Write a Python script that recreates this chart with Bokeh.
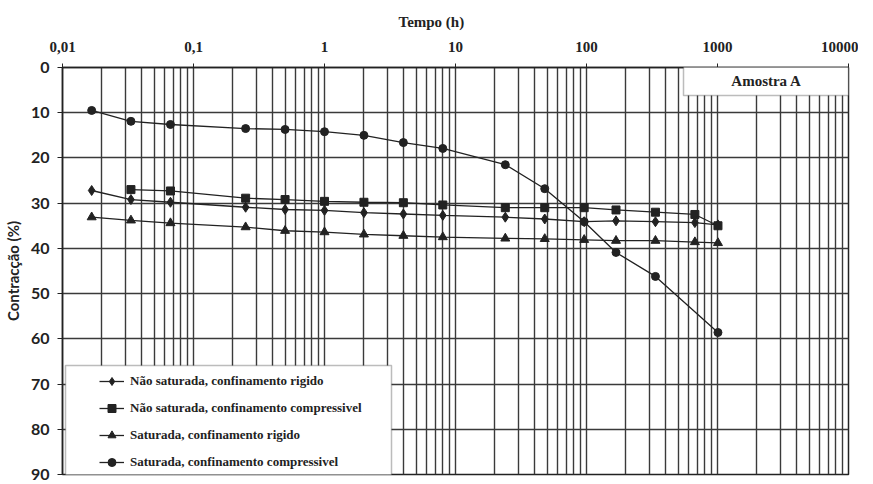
from bokeh.plotting import figure
from bokeh.models import (Range1d, FixedTicker, Legend, LegendItem, BoxAnnotation, Label, Title)
from bokeh.embed import file_html
from bokeh.resources import INLINE

# ---- data ----
t_nsr = [0.0167, 0.0333, 0.0667, 0.25, 0.5, 1, 2, 4, 8, 24, 48, 96, 168, 336, 672, 1008]
v_nsr = [27.2, 29.2, 29.8, 30.9, 31.4, 31.6, 32.1, 32.4, 32.7, 33.1, 33.5, 34.1, 33.9, 34.1, 34.3, 34.8]

t_nsc = [0.0333, 0.0667, 0.25, 0.5, 1, 2, 4, 8, 24, 48, 96, 168, 336, 672, 1008]
v_nsc = [27.0, 27.3, 28.9, 29.2, 29.6, 29.8, 29.9, 30.4, 31.0, 31.0, 31.0, 31.5, 32.0, 32.5, 35.0]

t_sr = [0.0167, 0.0333, 0.0667, 0.25, 0.5, 1, 2, 4, 8, 24, 48, 96, 168, 336, 672, 1008]
v_sr = [33.1, 33.8, 34.4, 35.3, 36.1, 36.4, 36.9, 37.2, 37.5, 37.8, 37.9, 38.1, 38.3, 38.3, 38.6, 38.8]

t_sc = [0.0167, 0.0333, 0.0667, 0.25, 0.5, 1, 2, 4, 8, 24, 48, 96, 168, 336, 1008]
v_sc = [9.5, 11.9, 12.6, 13.5, 13.7, 14.2, 15.0, 16.6, 17.9, 21.5, 26.8, 34.1, 40.9, 46.2, 58.6]

labels = ["Não saturada, confinamento rigido",
          "Não saturada, confinamento compressivel",
          "Saturada, confinamento rigido",
          "Saturada, confinamento compressivel"]

x_ticks = [0.01, 0.1, 1, 10, 100, 1000, 10000]
x_tick_labels = ["0,01", "0,1", "1", "10", "100", "1000", "10000"]
y_ticks = [0, 10, 20, 30, 40, 50, 60, 70, 80, 90]

SERIF = "Liberation Serif"
INK = "#222222"
GRID = "#3a3a3a"

p = figure(frame_width=786, frame_height=407, x_axis_type="log", x_axis_location="above",
           x_range=Range1d(0.01, 10000), y_range=Range1d(90, 0),
           output_backend="svg", toolbar_location=None,
           min_border_left=57, min_border_right=10, min_border_top=67, min_border_bottom=10)

minor = [m * 10 ** e for e in range(-2, 4) for m in range(2, 10)]
xt = FixedTicker(ticks=x_ticks, minor_ticks=minor)
p.xaxis.ticker = xt
p.xgrid.ticker = xt
p.xaxis.major_label_overrides = {k: v for k, v in zip(x_ticks, x_tick_labels)}
yt = FixedTicker(ticks=y_ticks)
p.yaxis.ticker = yt
p.ygrid.ticker = yt

for g in (p.xgrid, p.ygrid):
    g.grid_line_color = GRID
    g.grid_line_width = 1.4
p.xgrid.minor_grid_line_color = GRID
p.xgrid.minor_grid_line_width = 1.4

p.outline_line_color = INK
p.outline_line_width = 1.5

ax = p.xaxis[0]
ax.major_label_text_font = SERIF
ax.major_label_text_font_style = "bold"
ax.major_label_text_font_size = "15px"
ax.major_label_text_color = INK
ax.major_label_standoff = 12
ax.major_tick_out = 4
ax.major_tick_in = 0
ax.minor_tick_out = 0
ax.minor_tick_in = 0
ax.axis_line_color = INK
ax.axis_line_width = 1.5
ax.major_tick_line_color = INK

ay = p.yaxis[0]
ay.axis_label = "Contracção (%)"
ay.axis_label_text_font = "Lato"
ay.axis_label_text_font_style = "bold"
ay.axis_label_text_font_size = "15px"
ay.axis_label_text_color = INK
ay.axis_label_standoff = 6
ay.major_label_text_font = "Lato"
ay.major_label_text_font_style = "bold"
ay.major_label_text_font_size = "16px"
ay.major_label_text_color = INK
ay.major_label_standoff = 8
ay.major_tick_out = 5
ay.major_tick_in = 0
ay.minor_tick_out = 0
ay.minor_tick_in = 0
ay.axis_line_color = INK
ay.axis_line_width = 1.5
ay.major_tick_line_color = INK

# x-axis title, placed like the reference (left of centre)
p.add_layout(Title(text="Tempo (h)", align="left", offset=336, standoff=17,
                   text_font=SERIF, text_font_style="bold", text_font_size="15px",
                   text_color=INK), "above")

series = [(t_nsr, v_nsr, "diamond", 10),
          (t_nsc, v_nsc, "square", 8),
          (t_sr, v_sr, "triangle", 9),
          (t_sc, v_sc, "circle", 8)]

items = []
for (t, v, mk, sz), lab in zip(series, labels):
    lr = p.line(t, v, line_color=INK, line_width=1.3)
    sr = p.scatter(t, v, marker=mk, size=sz, fill_color=INK, line_color=INK)
    items.append(LegendItem(label=lab, renderers=[lr, sr]))

# legend frame (white box with border)
p.add_layout(BoxAnnotation(left=3, right=329, bottom=-2, top=109,
                           left_units="screen", right_units="screen",
                           top_units="screen", bottom_units="screen",
                           fill_color="white", fill_alpha=1.0,
                           line_color=INK, line_width=1.5))

leg = Legend(items=items, location=(32, -3), padding=5, spacing=7,
             glyph_height=20, glyph_width=25, label_height=20,
             label_standoff=6, margin=0,
             label_text_font=SERIF, label_text_font_style="bold",
             label_text_font_size="13px", label_text_color=INK,
             border_line_alpha=0, background_fill_alpha=0)
p.add_layout(leg)

# "Amostra A" box
p.add_layout(BoxAnnotation(left=621, right=786, bottom=379, top=410,
                           left_units="screen", right_units="screen",
                           top_units="screen", bottom_units="screen",
                           fill_color="white", fill_alpha=1.0,
                           line_color=INK, line_width=1.5))
p.add_layout(Label(x=704, y=394, x_units="screen", y_units="screen",
                   text="Amostra A", text_align="center", text_baseline="middle",
                   text_font=SERIF, text_font_style="bold", text_font_size="15px",
                   text_color=INK))

open("out.html", "w").write(file_html(p, INLINE))
